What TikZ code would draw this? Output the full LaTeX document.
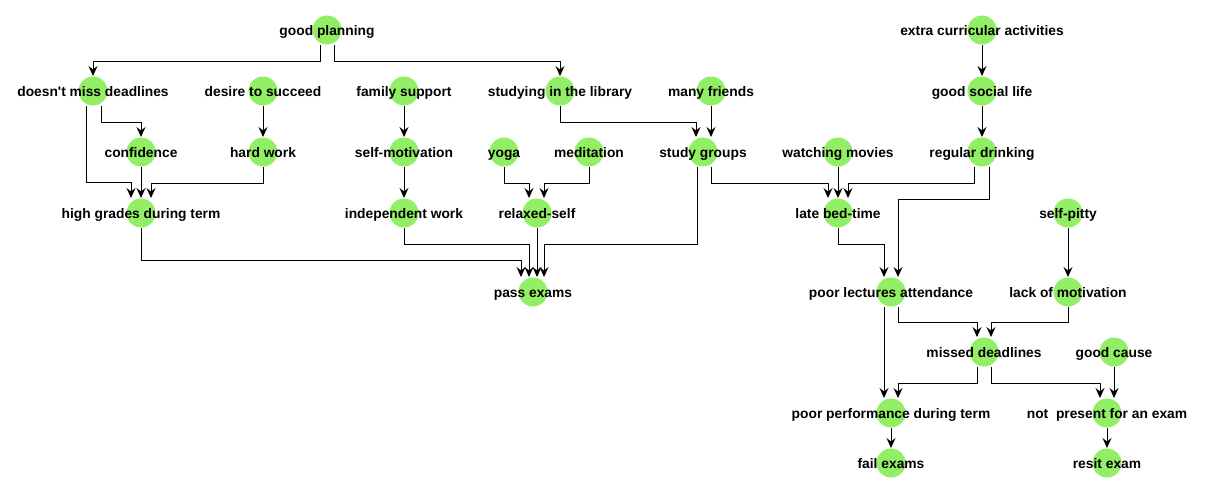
\documentclass[tikz,border=0pt]{standalone}
\usepackage{fontspec}
\setmainfont{Liberation Sans}
\usetikzlibrary{arrows.meta}
\definecolor{nodegreen}{RGB}{146,238,100}

\begin{document}
\begin{tikzpicture}[x=1pt,y=-1pt,line width=1pt,>={Stealth[length=10pt,width=9pt,inset=3.5pt]},
    state/.style={circle,fill=nodegreen,minimum size=29pt,inner sep=0pt,
        label={[font=\fontsize{13.8}{16}\selectfont\bfseries,inner sep=0pt,text height=10pt,text depth=0pt]center:#1}}]
    \useasboundingbox (0,0) rectangle (1206,493);
    % left part
    \node[state=good planning] (plan) at (327,30) {};
    \node[state=doesn\textquotesingle t miss deadlines] (nomiss) at (93,91) {};
    \node[state=desire to succeed] (desire) at (263,91) {};
    \node[state=confidence] (conf) at (141,152) {};
    \node[state=hard work] (hard) at (263,152) {};
    \node[state=high grades during term] (high) at (141,213) {};
    \node[state=family support] (family) at (404,91) {};
    \node[state=self-motivation] (selfmot) at (404,152) {};
    \node[state=independent work] (indep) at (404,213) {};
    \node[state=studying in the library] (library) at (560,91) {};
    \node[state=many friends] (friends) at (711,91) {};
    \node[state=yoga] (yoga) at (504,152) {};
    \node[state=meditation] (medit) at (589,152) {};
    \node[state=study groups] (groups) at (703,152) {};
    \node[state=relaxed-self] (relax) at (537,213) {};
    \node[state=pass exams] (pass) at (533,292) {};
    % right part
    \node[state=extra curricular activities] (extra) at (982,30) {};
    \node[state=good social life] (social) at (982,91) {};
    \node[state=regular drinking] (drink) at (982,152) {};
    \node[state=watching movies] (movies) at (838,152) {};
    \node[state=late bed-time] (bed) at (838,213) {};
    \node[state=self-pitty] (pity) at (1068,213) {};
    \node[state=poor lectures attendance] (lectures) at (891,292) {};
    \node[state=lack of motivation] (lackmot) at (1068,292) {};
    \node[state=missed deadlines] (missed) at (984,352) {};
    \node[state=good cause] (cause) at (1114,352) {};
    \node[state=poor performance during term] (perf) at (891,413) {};
    \node[state=not\ \ present for an exam] (notpres) at (1107,413) {};
    \node[state=fail exams] (fail) at (891,463) {};
    \node[state=resit exam] (resit) at (1107,463) {};

    % edges, left
    \draw[->] ([xshift=-7pt]plan.south) -- ++(0,16) -| (nomiss.north);
    \draw[->] ([xshift=7pt]plan.south) -- ++(0,16) -| (library.north);
    \draw[->] ([xshift=8pt]nomiss.south) -- ++(0,16) -| (conf.north);
    \draw[->] ([xshift=-7pt]nomiss.south) -- ++(0,76.5) -| ([xshift=-10pt]high.north);
    \draw[->] (conf) -- (high);
    \draw[->] (desire) -- (hard);
    \draw[->] (hard.south) -- ++(0,16) -| ([xshift=10pt]high.north);
    \draw[->] (family) -- (selfmot);
    \draw[->] (selfmot) -- (indep);
    \draw[->] (yoga.south) -- ++(0,16) -| ([xshift=-8pt]relax.north);
    \draw[->] (medit.south) -- ++(0,16) -| ([xshift=7pt]relax.north);
    \draw[->] (library.south) -- ++(0,16) -| ([xshift=-7pt]groups.north);
    \draw[->] (friends.south) -- (friends.south |- groups.north);
    \draw[->] (high.south) -- ++(0,32.5) -| ([xshift=-12pt]pass.north);
    \draw[->] (indep.south) -- ++(0,16.5) -| ([xshift=-4pt]pass.north);
    \draw[->] (relax.south) -- (relax.south |- pass.north);
    \draw[->] ([xshift=-6pt]groups.south) -- ++(0,77.5) -| ([xshift=11pt]pass.north);
    % edges, right
    \draw[->] (extra) -- (social);
    \draw[->] (social) -- (drink);
    \draw[->] ([xshift=8pt]groups.south) -- ++(0,16) -| ([xshift=-10pt]bed.north);
    \draw[->] (movies) -- (bed);
    \draw[->] ([xshift=-8pt]drink.south) -- ++(0,16) -| ([xshift=10pt]bed.north);
    \draw[->] ([xshift=7pt]drink.south) -- ++(0,32) -| ([xshift=7pt]lectures.north);
    \draw[->] (bed.south) -- ++(0,16.5) -| ([xshift=-7pt]lectures.north);
    \draw[->] (pity) -- (lackmot);
    \draw[->] ([xshift=7pt]lectures.south) -- ++(0,15) -| ([xshift=-7pt]missed.north);
    \draw[->] (lackmot.south) -- ++(0,15) -| ([xshift=7pt]missed.north);
    \draw[->] ([xshift=-7pt]lectures.south) -- ([xshift=-7pt]perf.north);
    \draw[->] ([xshift=-7pt]missed.south) -- ++(0,16) -| ([xshift=7pt]perf.north);
    \draw[->] ([xshift=7pt]missed.south) -- ++(0,16) -| ([xshift=-7pt]notpres.north);
    \draw[->] (cause.south) -- (cause.south |- notpres.north);
    \draw[->] (perf) -- (fail);
    \draw[->] (notpres) -- (resit);
\end{tikzpicture}
\end{document}
